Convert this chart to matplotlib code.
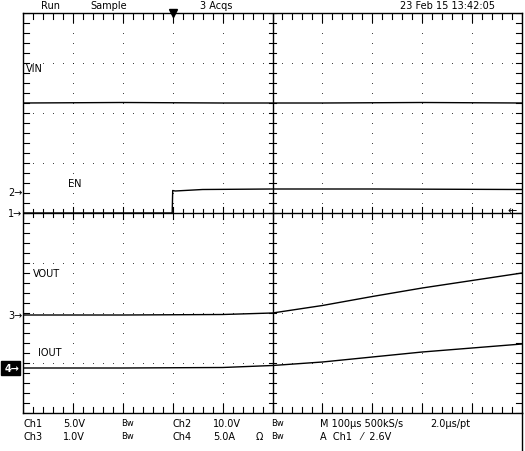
import matplotlib
matplotlib.use("Agg")
import matplotlib.pyplot as plt
import numpy as np

plt.rcParams['font.family'] = ['DejaVu Sans']

# trace breakpoints (x in divisions 0..10, y in divisions -4..4)
vin_x = [0, 2, 4, 6, 8, 10]
vin_y = [2.2, 2.21, 2.2, 2.2, 2.21, 2.2]
en_x = [0, 2.99, 3.0, 3.05, 3.6, 5, 7, 10]
en_y = [0.0, 0.0, 0.45, 0.44, 0.47, 0.48, 0.48, 0.47]
vout_x = [0, 2, 4, 5, 6, 7, 8, 9, 10]
vout_y = [-2.04, -2.04, -2.03, -2.0, -1.85, -1.67, -1.5, -1.35, -1.2]
iout_x = [0, 2, 4, 5, 6, 7, 8, 9, 10]
iout_y = [-3.1, -3.1, -3.09, -3.05, -2.98, -2.88, -2.78, -2.7, -2.62]
labels = {"VIN": (0.05, 2.9), "EN": (0.9, 0.6), "VOUT": (0.2, -1.2), "IOUT": (0.3, -2.78)}

W, H = 525, 452
fig = plt.figure(figsize=(W/100, H/100), dpi=100)
ax = fig.add_axes([23/W, (H-414)/H, 499/W, 400/H])
ax.set_xlim(0, 10); ax.set_ylim(-4, 4)
ax.set_xticks([]); ax.set_yticks([])
for s in ax.spines.values():
    s.set_linewidth(1); s.set_color('black')

# dotted grid
for gx in range(1, 10):
    if gx == 5: continue
    ax.plot([gx]*41, np.linspace(-4, 4, 41), ls='none', marker='s', ms=0.5, mew=0, color='k')
for gy in range(-3, 4):
    if gy == 0: continue
    ax.plot(np.linspace(0, 10, 51), [gy]*51, ls='none', marker='s', ms=0.5, mew=0, color='k')
# center cross with ticks
ax.axhline(0, color='k', lw=1); ax.axvline(5, color='k', lw=1)
for t in np.arange(0, 10.01, 0.2):
    L = 0.12 if abs(t - round(t)) < 1e-6 else 0.08
    ax.plot([t, t], [-L, L], color='k', lw=0.8)
    ax.plot([t, t], [4, 4 - L*1.5], color='k', lw=0.8)
    ax.plot([t, t], [-4, -4 + L*1.5], color='k', lw=0.8)
for t in np.arange(-4, 4.01, 0.2):
    ax.plot([4.92, 5.08], [t, t], color='k', lw=0.8)
    ax.plot([0, 0.12], [t, t], color='k', lw=0.8)
    ax.plot([10, 9.88], [t, t], color='k', lw=0.8)

for xs, ys in [(vin_x, vin_y), (en_x, en_y), (vout_x, vout_y), (iout_x, iout_y)]:
    ax.plot(xs, ys, color='k', lw=1)
for k, (x, y) in labels.items():
    ax.text(x, y, k, fontsize=7, va='center', ha='left')
ax.plot([3.0], [4.0], marker='v', color='k', ms=6, clip_on=False)
ax.text(9.8, 0.05, "←", fontsize=8, ha='center', va='center')

fs = 7
def ft(x, y, s, **kw):
    fig.text(x/W, 1-y/H, s, fontsize=kw.pop('fontsize', fs), va='center', **kw)
ft(8, 193, "2→", ha='left')
ft(8, 214, "1→", ha='left')
ft(8, 316, "3→", ha='left')
fig.patches.append(plt.Rectangle((1/W, 1-376/H), 19/W, 14/H, transform=fig.transFigure, color='k'))
ft(5, 369, "4→", ha='left', color='white', fontweight='bold')

ft(41, 6, "Run"); ft(90, 6, "Sample"); ft(200, 6, "3 Acqs"); ft(400, 6, "23 Feb 15 13:42:05")
r1, r2 = 424, 437
ft(24, r1, "Ch1"); ft(63, r1, "5.0V"); ft(121, r1, "Bw", fontsize=6)
ft(173, r1, "Ch2"); ft(213, r1, "10.0V"); ft(271, r1, "Bw", fontsize=6)
ft(320, r1, "M 100µs 500kS/s"); ft(430, r1, "2.0µs/pt")
ft(24, r2, "Ch3"); ft(63, r2, "1.0V"); ft(121, r2, "Bw", fontsize=6)
ft(173, r2, "Ch4"); ft(213, r2, "5.0A"); ft(256, r2, "Ω"); ft(271, r2, "Bw", fontsize=6)
ft(320, r2, "A  Ch1   ⁄  2.6V")
fig.add_artist(plt.Line2D([522/W, 522/W], [0, 1-414/H], color='k', lw=1, transform=fig.transFigure))

fig.savefig("out.png", dpi=100)
